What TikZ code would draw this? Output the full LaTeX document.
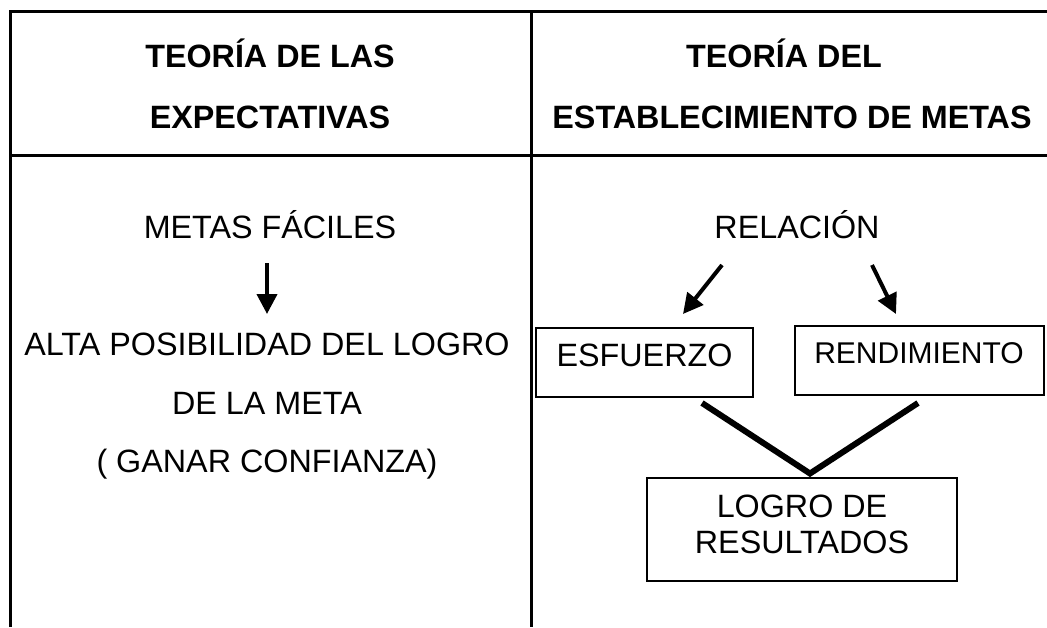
\documentclass[tikz,border=0pt]{standalone}
\usepackage{fontspec}
\setmainfont{Liberation Sans}
\usetikzlibrary{arrows.meta}
\begin{document}
\begin{tikzpicture}[x=1pt,y=-1pt,
  grid/.style={line width=3pt},
  body/.style={font=\fontsize{32.3}{36}\selectfont, inner sep=0pt, anchor=base},
  head/.style={font=\bfseries\fontsize{32.3}{36}\selectfont, inner sep=0pt, anchor=base},
  box/.style={draw, line width=2pt, inner sep=0pt, anchor=base, font=\fontsize{32.3}{36}\selectfont},
  arr/.style={line width=4pt, -{Triangle[length=20pt,width=20pt]}},
  vline/.style={line width=6pt}]
\useasboundingbox (0,0) rectangle (1047,627);

% table grid
\coordinate (tl) at (10,11);
\coordinate (tr) at (1047,11);
\coordinate (bl) at (10,627);
\coordinate (mt) at (531,11);
\coordinate (mb) at (531,627);
\coordinate (hl) at (10,155);
\coordinate (hr) at (1047,155);
\draw[grid] (bl) -- (tl) -- (tr);
\draw[grid] (mt) -- (mb);
\draw[grid] (hl) -- (hr);

% headers
\node[head] (h1) at (270,67) {TEORÍA DE LAS};
\node[head] (h2) at (270,128) {EXPECTATIVAS};
\node[head] (h3) at (784,67) {TEORÍA DEL};
\node[head] (h4) at (792,128) {ESTABLECIMIENTO DE METAS};

% left column
\node[body] (metas) at (270,238) {METAS FÁCILES};
\node[body] (alta1) at (267,355) {ALTA POSIBILIDAD DEL LOGRO};
\node[body] (alta2) at (267,414) {DE LA META};
\node[body] (alta3) at (267,472) {( GANAR CONFIANZA)};
\coordinate (la1) at (267,263);
\coordinate (la2) at (267,314);
\draw[arr] (la1) -- (la2);

% right column
\node[body] (rel) at (797,238) {RELACIÓN};
\node[box, minimum width=217pt, text height=38pt, text depth=31pt] (esf) at (644.5,366) {ESFUERZO};
\node[box, font=\fontsize{30}{34}\selectfont, minimum width=249pt, text height=37pt, text depth=32pt] (ren) at (919,363) {RENDIMIENTO};
\node[box, align=center, minimum width=310pt, inner ysep=17pt, anchor=north] (log) at (802,477) {LOGRO DE\\RESULTADOS\rule[-10pt]{0pt}{0pt}};

\coordinate (ra1) at (722,265);
\coordinate (ra2) at (683,314);
\coordinate (rb1) at (872,265);
\coordinate (rb2) at (896,314);
\draw[arr] (ra1) -- (ra2);
\draw[arr] (rb1) -- (rb2);

\coordinate (v1) at (702,403);
\coordinate (v2) at (810,473.5);
\coordinate (v3) at (918,403);
\draw[vline] (v1) -- (v2) -- (v3);
\end{tikzpicture}
\end{document}
